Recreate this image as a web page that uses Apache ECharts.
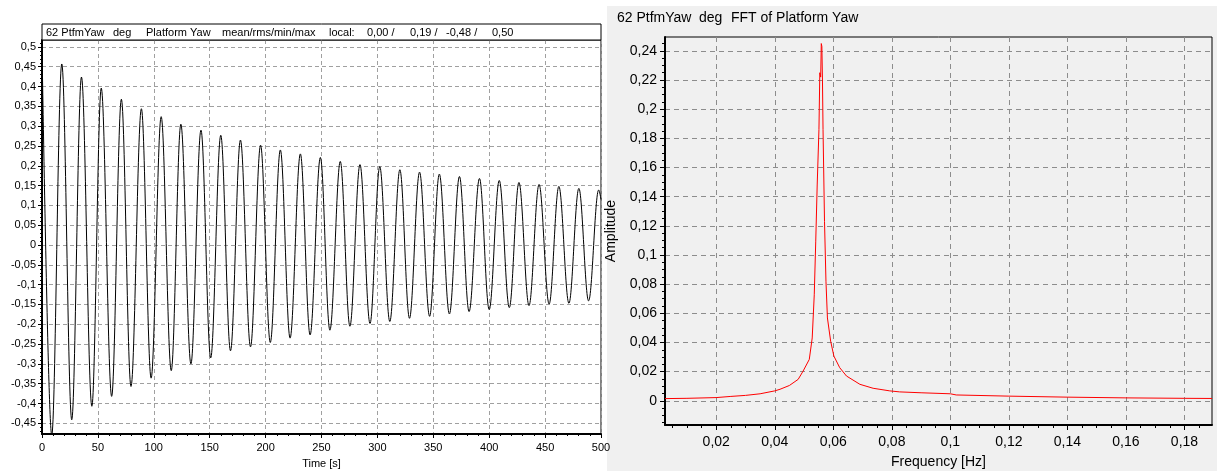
<!DOCTYPE html>
<html>
<head>
<meta charset="utf-8">
<script src="https://cdn.jsdelivr.net/npm/echarts@6/dist/echarts.min.js"></script>
<style>
html,body{margin:0;padding:0;background:#fff;}
#c{width:1217px;height:474px;}
</style>
</head>
<body>
<div id="c"></div>
<script>
// ---- Left chart: Platform Yaw time series (extrema) ----
const yawTime = [0, 8.7, 17.7, 26.6, 35.3, 44.6, 53.0, 62.3, 71.0, 79.6, 88.9, 97.6, 106.6, 115.6, 124.2, 133.2, 142.2, 150.9, 159.9, 168.6, 177.5, 186.5, 195.5, 204.2, 213.2, 221.9, 231.1, 239.8, 249.0, 257.5, 266.8, 275.4, 284.4, 293.4, 302.1, 311.1, 320.1, 328.7, 337.7, 346.7, 355.4, 364.4, 373.4, 382.0, 391.3, 400.0, 409.0, 418.0, 426.6, 435.6, 444.6, 453.6, 462.3, 471.3, 480.2, 488.9, 497.9, 500];
const yawValue = [0.50, -0.48, 0.457, -0.441, 0.424, -0.407, 0.396, -0.382, 0.368, -0.357, 0.344, -0.336, 0.324, -0.317, 0.305, -0.300, 0.290, -0.285, 0.277, -0.267, 0.265, -0.257, 0.252, -0.246, 0.240, -0.235, 0.230, -0.227, 0.221, -0.215, 0.211, -0.205, 0.203, -0.198, 0.198, -0.193, 0.190, -0.185, 0.184, -0.180, 0.179, -0.174, 0.173, -0.168, 0.168, -0.163, 0.163, -0.158, 0.158, -0.153, 0.153, -0.149, 0.148, -0.147, 0.143, -0.141, 0.139, 0.115];
const leftYTicks = [-0.45, -0.4, -0.35, -0.3, -0.25, -0.2, -0.15, -0.1, -0.05, 0, 0.05, 0.1, 0.15, 0.2, 0.25, 0.3, 0.35, 0.4, 0.45, 0.5];
const leftYMinorTicks = [-0.47,-0.46,-0.44,-0.43,-0.42,-0.41,-0.39,-0.38,-0.37,-0.36,-0.34,-0.33,-0.32,-0.31,-0.29,-0.28,-0.27,-0.26,-0.24,-0.23,-0.22,-0.21,-0.19,-0.18,-0.17,-0.16,-0.14,-0.13,-0.12,-0.11,-0.09,-0.08,-0.07,-0.06,-0.04,-0.03,-0.02,-0.01,0.01,0.02,0.03,0.04,0.06,0.07,0.08,0.09,0.11,0.12,0.13,0.14,0.16,0.17,0.18,0.19,0.21,0.22,0.23,0.24,0.26,0.27,0.28,0.29,0.31,0.32,0.33,0.34,0.36,0.37,0.38,0.39,0.41,0.42,0.43,0.44,0.46,0.47,0.48,0.49,0.51];
const leftTitleParts = ['62 PtfmYaw', 'deg', 'Platform Yaw', 'mean/rms/min/max', 'local:', '0,00 /', '0,19 /', '-0,48 /', '0,50'];

// ---- Right chart: FFT of Platform Yaw ----
const fftFreq = [0.0025, 0.01, 0.02, 0.025, 0.03, 0.035, 0.04, 0.0418, 0.045, 0.048, 0.0497, 0.0518, 0.0528, 0.0535, 0.054, 0.0545, 0.0551, 0.0554, 0.0557, 0.0559, 0.0561, 0.0563, 0.0565, 0.057, 0.0575, 0.058, 0.0591, 0.0602, 0.0622, 0.0645, 0.0691, 0.0736, 0.0793, 0.0827, 0.09, 0.1, 0.102, 0.12, 0.14, 0.16, 0.18, 0.1894];
const fftAmp  = [0.0015, 0.0017, 0.0022, 0.003, 0.0037, 0.0048, 0.0068, 0.0079, 0.0105, 0.0147, 0.0204, 0.0284, 0.0431, 0.0727, 0.109, 0.148, 0.186, 0.225, 0.222, 0.245, 0.243, 0.220, 0.186, 0.123, 0.082, 0.0568, 0.0409, 0.0307, 0.0227, 0.0170, 0.0113, 0.0086, 0.0068, 0.0061, 0.0055, 0.0048, 0.0040, 0.0032, 0.0025, 0.0020, 0.0017, 0.0016];
const rightXTicks = [0.02, 0.04, 0.06, 0.08, 0.1, 0.12, 0.14, 0.16, 0.18];
const rightXMinorTicks = [0.005,0.01,0.015,0.025,0.03,0.035,0.045,0.05,0.055,0.065,0.07,0.075,0.085,0.09,0.095,0.105,0.11,0.115,0.125,0.13,0.135,0.145,0.15,0.155,0.165,0.17,0.175,0.185];
const rightYTicks = [0, 0.02, 0.04, 0.06, 0.08, 0.1, 0.12, 0.14, 0.16, 0.18, 0.2, 0.22, 0.24];
const rightYMinorTicks = [-0.015,-0.01,-0.005,0.005,0.01,0.015,0.025,0.03,0.035,0.045,0.05,0.055,0.065,0.07,0.075,0.085,0.09,0.095,0.105,0.11,0.115,0.125,0.13,0.135,0.145,0.15,0.155,0.165,0.17,0.175,0.185,0.19,0.195,0.205,0.21,0.215,0.225,0.23,0.235,0.245];
const rightTitleParts = ['62 PtfmYaw', 'deg', 'FFT of Platform Yaw'];

const FONT = 'Liberation Sans, Arial, sans-serif';
const fmt = v => String(v).replace('.', ',');

const chart = echarts.init(document.getElementById('c'), null, {renderer: 'canvas'});

const L = {left: 42, top: 40, width: 559, height: 394};
const R = {left: 665, top: 37, width: 547, height: 391};

const dashLeft = {show: true, lineStyle: {color: '#a0a0a0', type: [4, 3], width: 1}};
const dashRight = {show: true, lineStyle: {color: '#8c8c8c', type: [5, 4], width: 1}};
const axLine = {show: true, onZero: false, lineStyle: {color: '#000', width: 2}};
const noLine = {show: false, onZero: false};

const leftTitleX = [46, 113, 146, 222, 329, 367, 410, 446, 492];
const rightTitleX = [617, 699, 731];

const graphics = [
  {type: 'rect', z: -10, shape: {x: 607, y: 6, width: 610, height: 465}, style: {fill: '#f0f0f0'}},
  {type: 'rect', z: 10, shape: {x: L.left, y: 24, width: L.width, height: 16}, style: {fill: '#fff', stroke: '#000', lineWidth: 1}}
];
leftTitleParts.forEach((t, i) => graphics.push({type: 'text', z: 11, x: leftTitleX[i], y: 33,
  style: {text: t, font: '11px ' + FONT, fill: '#000', verticalAlign: 'middle'}}));
rightTitleParts.forEach((t, i) => graphics.push({type: 'text', z: 11, x: rightTitleX[i], y: 18,
  style: {text: t, font: '14px ' + FONT, fill: '#000', verticalAlign: 'middle'}}));

chart.setOption({
  animation: false,
  graphic: graphics,
  grid: [
    Object.assign({show: true, backgroundColor: '#fff', borderColor: '#000', borderWidth: 1}, L),
    Object.assign({show: true, backgroundColor: '#f0f0f0', borderColor: '#000', borderWidth: 1}, R)
  ],
  xAxis: [
    {type: 'value', gridIndex: 0, min: 0, max: 500, interval: 50,
     name: 'Time [s]', nameLocation: 'middle', nameGap: 24,
     nameTextStyle: {fontFamily: FONT, fontSize: 11, color: '#000'},
     axisLine: axLine, axisTick: {show: true, length: 4, lineStyle: {color: '#000'}},
     minorTick: {show: true, splitNumber: 5, length: 2, lineStyle: {color: '#000'}},
     axisLabel: {formatter: fmt, fontFamily: FONT, fontSize: 11, color: '#000', margin: 8},
     splitLine: dashLeft},
    {type: 'value', gridIndex: 1, min: 0.0025, max: 0.1894,
     name: 'Frequency [Hz]', nameLocation: 'middle', nameGap: 30,
     nameTextStyle: {fontFamily: FONT, fontSize: 14, color: '#000'},
     axisLine: axLine,
     axisTick: {show: true, length: 5, customValues: rightXTicks, lineStyle: {color: '#000'}},
     axisLabel: {customValues: rightXTicks, formatter: fmt, fontFamily: FONT, fontSize: 14, color: '#000', margin: 10},
     splitLine: dashRight},
    {type: 'value', gridIndex: 1, min: 0.0025, max: 0.1894, position: 'bottom',
     axisLine: noLine, axisLabel: {show: false}, splitLine: {show: false},
     axisTick: {show: true, length: 3, customValues: rightXMinorTicks, lineStyle: {color: '#000'}}}
  ],
  yAxis: [
    {type: 'value', gridIndex: 0, min: -0.477, max: 0.5175,
     axisLine: axLine,
     axisTick: {show: true, length: 4, customValues: leftYTicks, lineStyle: {color: '#000'}},
     axisLabel: {customValues: leftYTicks, formatter: fmt, fontFamily: FONT, fontSize: 11, color: '#000', margin: 6},
     splitLine: dashLeft},
    {type: 'value', gridIndex: 0, min: -0.477, max: 0.5175, position: 'left',
     axisLine: noLine, axisLabel: {show: false}, splitLine: {show: false},
     axisTick: {show: true, length: 2, customValues: leftYMinorTicks, lineStyle: {color: '#000'}}},
    {type: 'value', gridIndex: 1, min: -0.0166, max: 0.2495,
     name: 'Amplitude', nameLocation: 'middle', nameGap: 47, nameRotate: 90,
     nameTextStyle: {fontFamily: FONT, fontSize: 14, color: '#000'},
     axisLine: axLine,
     axisTick: {show: true, length: 5, customValues: rightYTicks, lineStyle: {color: '#000'}},
     axisLabel: {customValues: rightYTicks, formatter: fmt, fontFamily: FONT, fontSize: 14, color: '#000', margin: 8},
     splitLine: dashRight},
    {type: 'value', gridIndex: 1, min: -0.0166, max: 0.2495, position: 'left',
     axisLine: noLine, axisLabel: {show: false}, splitLine: {show: false},
     axisTick: {show: true, length: 3, customValues: rightYMinorTicks, lineStyle: {color: '#000'}}}
  ],
  series: [
    {type: 'line', xAxisIndex: 0, yAxisIndex: 0, showSymbol: false, symbol: 'none',
     smooth: 0.36, smoothMonotone: 'x', clip: true,
     lineStyle: {color: '#000', width: 1},
     data: yawTime.map((t, i) => [t, yawValue[i]])},
    {type: 'line', xAxisIndex: 1, yAxisIndex: 2, showSymbol: false, symbol: 'none', clip: true,
     lineStyle: {color: '#ff0000', width: 1},
     data: fftFreq.map((f, i) => [f, fftAmp[i]])}
  ]
});
</script>
</body>
</html>
